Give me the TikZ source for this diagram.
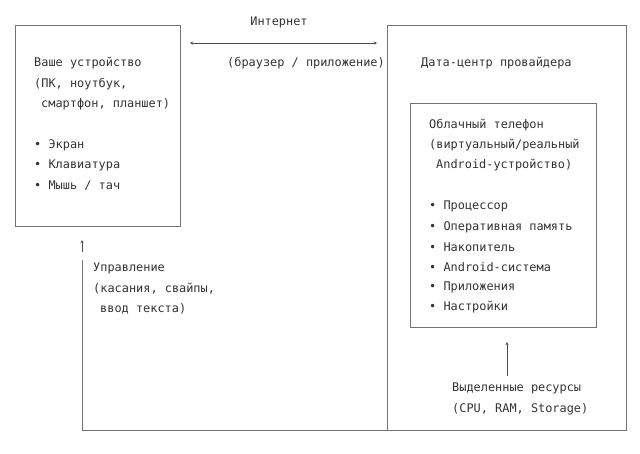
\documentclass[tikz,border=0pt]{standalone}
\usepackage{fontspec}
\setmonofont{DejaVu Sans Mono}
\usetikzlibrary{arrows.meta}
\tikzset{
  txt/.style={anchor=west, inner sep=0pt, font=\ttfamily\fontsize{11.9}{13}\selectfont, text=black!80},
  frame/.style={draw=black!55, line width=0.6pt},
  arrow/.style={draw=black!70, line width=0.5pt, -{Stealth[length=3pt,width=3pt]}},
  twoway/.style={arrow, {Stealth[length=3pt,width=3pt]}-{Stealth[length=3pt,width=3pt]}},
}
\begin{document}
\begin{tikzpicture}[x=1pt,y=-1pt]
\useasboundingbox (0,0) rectangle (640,453);

% Frames
\draw[frame] (15,25) rectangle (180,226);
\draw[frame] (387,25) rectangle (626,430);
\draw[frame] (410,103) rectangle (596,327);
\draw[frame] (82,260) -- (82,430) -- (387,430);

% Left device
\node (dev) [txt] at (34,63) {Ваше устройство};
\node (dev2) [txt] at (34,84) {(ПК, ноутбук,};
\node (dev3) [txt] at (41,104) {смартфон, планшет)};
\node (b1) [txt] at (34,145) {• Экран};
\node (b2) [txt] at (34,165) {• Клавиатура};
\node (b3) [txt] at (34,186) {• Мышь / тач};

% Internet
\node (net) [txt, anchor=center] at (279,22) {Интернет};
\node (via) [txt] at (227,63) {(браузер / приложение)};
\coordinate (netl) at (190,43);
\coordinate (netr) at (377,43);
\draw[twoway] (netl) -- (netr);

% Data centre
\node (dc) [txt] at (421,63) {Дата-центр провайдера};
\node (ph) [txt] at (429,125) {Облачный телефон};
\node (ph2) [txt] at (429,145) {(виртуальный/реальный};
\node (ph3) [txt] at (436,165) {Android-устройство)};
\node (p1) [txt] at (429,206) {• Процессор};
\node (p2) [txt] at (429,227) {• Оперативная память};
\node (p3) [txt] at (429,247) {• Накопитель};
\node (p4) [txt] at (429,267) {• Android-система};
\node (p5) [txt] at (429,287) {• Приложения};
\node (p6) [txt] at (429,307) {• Настройки};

% Resources
\node (res) [txt] at (452,388) {Выделенные ресурсы};
\node (res2) [txt] at (452,409) {(CPU, RAM, Storage)};
\coordinate (resb) at (507,376);
\coordinate (rest) at (507,342);
\draw[arrow] (resb) -- (rest);

% Control
\node (ctl) [txt] at (93,268) {Управление};
\node (ctl2) [txt] at (93,289) {(касания, свайпы,};
\node (ctl3) [txt] at (100,309) {ввод текста)};
\coordinate (ctlb) at (82,252);
\coordinate (ctlt) at (82,240);
\draw[arrow] (ctlb) -- (ctlt);
\end{tikzpicture}
\end{document}
